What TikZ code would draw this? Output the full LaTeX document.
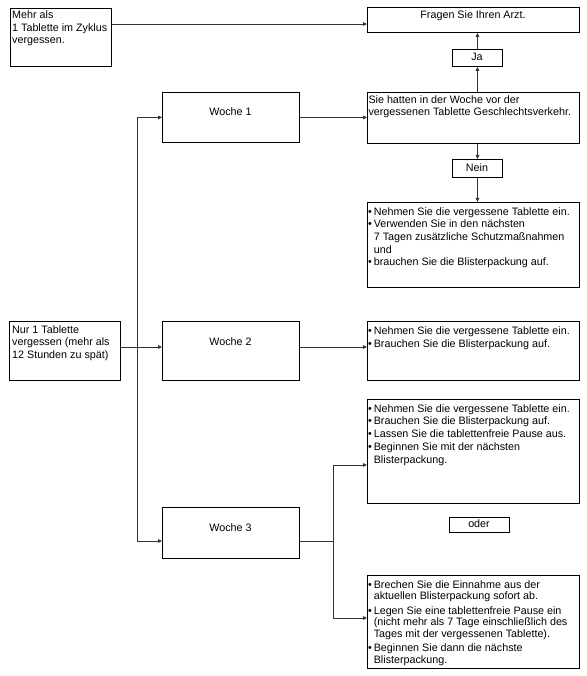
\documentclass[tikz,border=0pt]{standalone}
\usepackage{fontspec}
\setmainfont{Liberation Sans}
\usetikzlibrary{arrows.meta}
\newcommand\bit{\makebox[5.6pt][l]{\textbullet}}
\newcommand\ind{\hspace*{5.6pt}}
\newcommand\tb[2]{\parbox[t]{240pt}{\fontsize{10.75}{#1}\selectfont\raggedright #2}}
\begin{document}
\begin{tikzpicture}[x=1pt,y=-1pt,
  box/.style={draw=black,line width=0.9pt,inner sep=0pt,anchor=north west},
  txt/.style={inner sep=0pt,font=\fontsize{10.75}{12.5}\selectfont},
  conn/.style={draw=black!80,line width=0.9pt,-{Triangle[length=4pt,width=3.6pt]}},
  plain/.style={draw=black!80,line width=0.9pt}]
\useasboundingbox (0,0) rectangle (586,676);
\fill[white] (0,0) rectangle (586,676);
% boxes
\node[box,minimum width=101pt,minimum height=58pt] (mehr) at (10,8) {};
\node[box,minimum width=212pt,minimum height=25pt] (arzt) at (367,7) {};
\node[box,minimum width=50pt,minimum height=17pt] (ja) at (452,49) {};
\node[box,minimum width=137pt,minimum height=50pt] (w1) at (162,92) {};
\node[box,minimum width=212pt,minimum height=51pt] (sie) at (367,92) {};
\node[box,minimum width=50pt,minimum height=18pt] (nein) at (452,159) {};
\node[box,minimum width=212pt,minimum height=85pt] (b1) at (367,202) {};
\node[box,minimum width=111pt,minimum height=59pt] (nur) at (9,321) {};
\node[box,minimum width=137pt,minimum height=59pt] (w2) at (162,321) {};
\node[box,minimum width=212pt,minimum height=59pt] (b2) at (367,321) {};
\node[box,minimum width=212pt,minimum height=104pt] (b3) at (367,399) {};
\node[box,minimum width=60pt,minimum height=15pt] (oder) at (449,517) {};
\node[box,minimum width=137pt,minimum height=51pt] (w3) at (162,507) {};
\node[box,minimum width=212pt,minimum height=93pt] (b4) at (367,575) {};
% texts
\node[txt,anchor=base west] (mehrt) at (12,18.8) {\tb{12.4}{Mehr als\\1 Tablette im Zyklus\\vergessen.}};
\node[txt,anchor=base] (arztt) at (473,18.8) {Fragen Sie Ihren Arzt.};
\node[txt,anchor=base] (jat) at (477,61) {Ja};
\node[txt,anchor=base] (w1t) at (230.5,115.7) {Woche 1};
\node[txt,anchor=base west] (siet) at (368.3,103.7) {\tb{12.3}{Sie hatten in der Woche vor der\\vergessenen Tablette Geschlechtsverkehr.}};
\node[txt,anchor=base] (neint) at (477,171.7) {Nein};
\node[txt,anchor=base west] (b1t) at (368,215.4) {\tb{12.55}{\bit Nehmen Sie die vergessene Tablette ein.\\
\bit Verwenden Sie in den nächsten\\
\ind 7 Tagen zusätzliche Schutzmaßnahmen\\
\ind und\\
\bit brauchen Sie die Blisterpackung auf.}};
\node[txt,anchor=base west] (nurt) at (12,333.5) {\tb{12.4}{Nur 1 Tablette\\vergessen (mehr als\\12 Stunden zu spät)}};
\node[txt,anchor=base] (w2t) at (230.5,345) {Woche 2};
\node[txt,anchor=base west] (b2t) at (368,334) {\tb{13}{\bit Nehmen Sie die vergessene Tablette ein.\\
\bit Brauchen Sie die Blisterpackung auf.}};
\node[txt,anchor=base west] (b3t) at (368,412) {\tb{12.75}{\bit Nehmen Sie die vergessene Tablette ein.\\
\bit Brauchen Sie die Blisterpackung auf.\\
\bit Lassen Sie die tablettenfreie Pause aus.\\
\bit Beginnen Sie mit der nächsten\\
\ind Blisterpackung.}};
\node[txt,anchor=base] (odert) at (479,527.7) {oder};
\node[txt,anchor=base] (w3t) at (230.5,531) {Woche 3};
\node[txt,anchor=base west] (b4t) at (368,588) {\tb{11.9}{\bit Brechen Sie die Einnahme aus der\\
\ind aktuellen Blisterpackung sofort ab.\\[2.2pt]
\bit Legen Sie eine tablettenfreie Pause ein\\
\ind (nicht mehr als 7 Tage einschließlich des\\
\ind Tages mit der vergessenen Tablette).\\[1.4pt]
\bit Beginnen Sie dann die nächste\\
\ind Blisterpackung.}};
% helper coordinates
\coordinate (ya) at (0,24);
\coordinate (j1) at (137,347);
\coordinate (j3) at (137,541);
\coordinate (k) at (333,541);
\coordinate (k3) at (333,465);
\coordinate (k4) at (333,618);
% connectors
\draw[conn] (mehr.east |- ya) -- (arzt.west |- ya);
\draw[conn] (ja.south |- sie.north) -- (ja.south);
\draw[conn] (ja.north) -- (ja.north |- arzt.south);
\draw[conn] (nein.north |- sie.south) -- (nein.north);
\draw[conn] (nein.south) -- (nein.south |- b1.north);
\draw[conn] (w1.east) -- (sie.west |- w1.east);
\draw[conn] (nur.east |- j1) -- (w2.west |- j1);
\draw[conn] (j1) |- (w1.west);
\draw[conn] (j1) -- (j3) -- (w3.west |- j3);
\draw[conn] (w2.east |- j1) -- (b2.west |- j1);
\draw[plain] (w3.east |- k) -- (k);
\draw[conn] (k) -- (k3) -- (b3.west |- k3);
\draw[conn] (k) -- (k4) -- (b4.west |- k4);
\end{tikzpicture}
\end{document}
